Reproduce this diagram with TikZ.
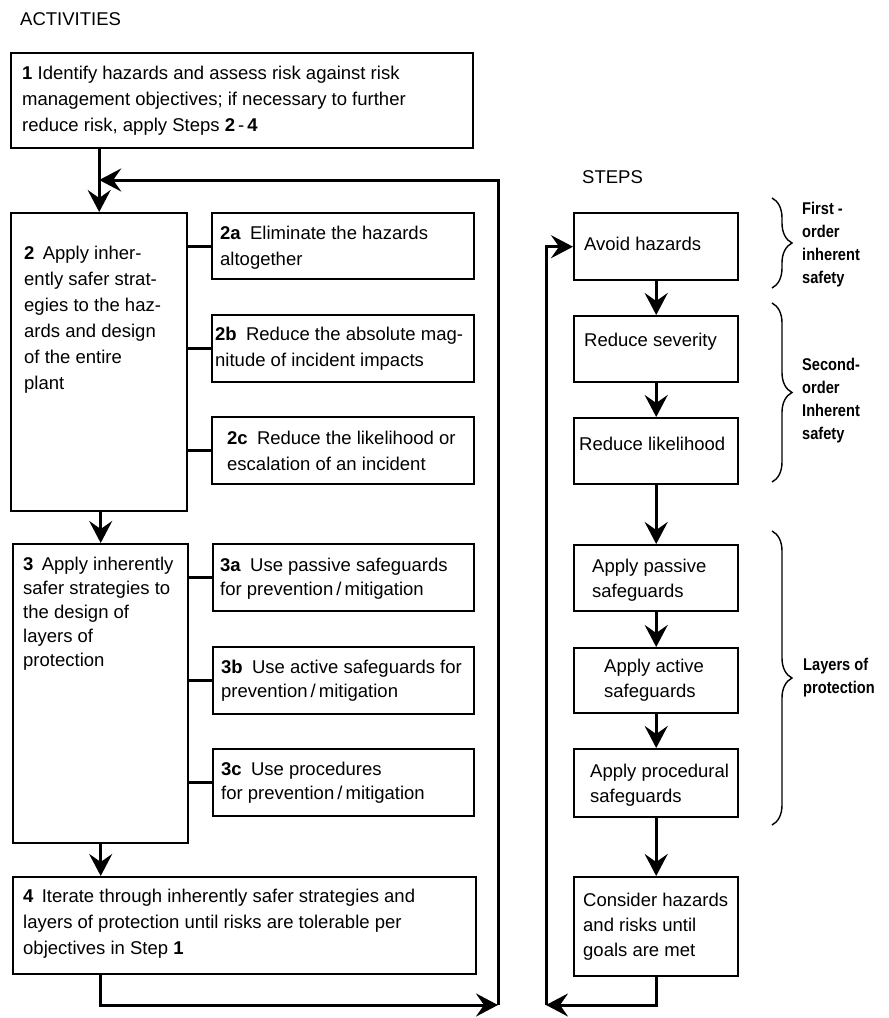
\documentclass[tikz,border=0pt]{standalone}
\usepackage{fontspec}
\setmainfont{Liberation Sans}
\newfontfamily\labelfont{Liberation Sans}[FakeStretch=0.86]
\usetikzlibrary{arrows.meta,decorations.pathreplacing,calc}
\begin{document}
\begin{tikzpicture}[x=1pt,y=-1pt,
  box/.style={draw, line width=2.4pt, anchor=north west, inner sep=0pt},
  txt/.style={anchor=west, align=left, inner sep=0pt, font=\fontsize{18.5}{26}\selectfont},
  txtt/.style={anchor=north west, align=left, inner sep=0pt, font=\fontsize{18.5}{26}\selectfont},
  stxt/.style={anchor=west, align=left, inner sep=0pt, font=\fontsize{18.5}{25}\selectfont},
  conn/.style={line width=3pt},
  arr/.style={conn, -{Stealth[length=22pt,width=23pt,inset=8pt]}},
  brc/.style={decorate, decoration={brace, amplitude=20pt, aspect=0.5}, line width=1.4pt},
  blabel/.style={anchor=west, align=left, inner sep=0pt, font=\labelfont\bfseries\fontsize{17}{23}\selectfont},
  heading/.style={anchor=west, inner sep=0pt, font=\fontsize{18.5}{22}\selectfont}]
\fill[white] (0,0) rectangle (889,1018);
\useasboundingbox (0,0) rectangle (889,1018);

% headings
\node[heading] (acth) at (20,19) {ACTIVITIES};
\node[heading] (steph) at (582,177) {STEPS};

% ---- activities column ----
\node[box, minimum width=462, minimum height=95] (b1) at (10,52) {};
\node[txt] (b1t) at ($(b1.west)+(12,0)$) {\textbf{1} Identify hazards and assess risk against risk\\management objectives; if necessary to further\\reduce risk, apply Steps \textbf{2}\,-\,\textbf{4}};

\node[box, minimum width=176, minimum height=298] (b2) at (10,212) {};
\node[txtt] (b2t) at ($(b2.north west)+(14,34)$) {\textbf{2}\hspace{0.45em}Apply inher-\\ently safer strat-\\egies to the haz-\\ards and design\\of the entire\\plant};

\node[box, minimum width=262, minimum height=66] (a2) at (211,212) {};
\node[txt] (a2t) at ($(a2.west)+(9,2)$) {\textbf{2a}\hspace{0.5em}Eliminate the hazards\\altogether};
\node[box, minimum width=262, minimum height=67] (b2b) at (211,314) {};
\node[txt] (b2bt) at ($(b2b.west)+(4,0)$) {\textbf{2b}\hspace{0.5em}Reduce the absolute mag-\\nitude of incident impacts};
\node[box, minimum width=262, minimum height=67] (c2) at (211,416) {};
\node[txt] (c2t) at ($(c2.west)+(16,0)$) {\textbf{2c}\hspace{0.5em}Reduce the likelihood or\\escalation of an incident};

\node[box, minimum width=175, minimum height=299] (b3) at (12,543) {};
\node[txtt, font=\fontsize{18.5}{24}\selectfont] (b3t) at ($(b3.north west)+(11,14)$) {\textbf{3}\hspace{0.45em}Apply inherently\\safer strategies to\\the design of\\layers of\\protection};

\node[box, minimum width=261, minimum height=67] (a3) at (212,543) {};
\node[txt, font=\fontsize{18.5}{24}\selectfont] (a3t) at ($(a3.west)+(8,1)$) {\textbf{3a}\hspace{0.5em}Use passive safeguards\\for prevention\,/\,mitigation};
\node[box, minimum width=261, minimum height=67] (b3b) at (212,646) {};
\node[txt, font=\fontsize{18.5}{24}\selectfont] (b3bt) at ($(b3b.west)+(9,0)$) {\textbf{3b}\hspace{0.5em}Use active safeguards for\\prevention\,/\,mitigation};
\node[box, minimum width=261, minimum height=67] (c3) at (212,748) {};
\node[txt, font=\fontsize{18.5}{24}\selectfont] (c3t) at ($(c3.west)+(9,0)$) {\textbf{3c}\hspace{0.5em}Use procedures\\for prevention\,/\,mitigation};

\node[box, minimum width=463, minimum height=97] (b4) at (12,876) {};
\node[txt] (b4t) at ($(b4.west)+(11,-2)$) {\textbf{4}\hspace{0.45em}Iterate through inherently safer strategies and\\layers of protection until risks are tolerable per\\objectives in Step \textbf{1}};

% ---- steps column ----
\node[box, minimum width=164, minimum height=67] (avoid) at (573,212) {};
\node[stxt] (avoidt) at ($(avoid.west)+(11,-3)$) {Avoid hazards};
\node[box, minimum width=164, minimum height=66] (sev) at (573,315) {};
\node[stxt] (sevt) at ($(sev.west)+(11,-7)$) {Reduce severity};
\node[box, minimum width=164, minimum height=66] (lik) at (573,417) {};
\node[stxt] (likt) at ($(lik.west)+(6,-7)$) {Reduce likelihood};
\node[box, minimum width=164, minimum height=66] (pas) at (573,544) {};
\node[stxt] (past) at ($(pas.west)+(19,2)$) {Apply passive\\safeguards};
\node[box, minimum width=164, minimum height=65] (act) at (573,647) {};
\node[stxt] (actt) at ($(act.west)+(31,0)$) {Apply active\\safeguards};
\node[box, minimum width=164, minimum height=68] (proc) at (573,748) {};
\node[stxt] (proct) at ($(proc.west)+(17,2)$) {Apply procedural\\safeguards};
\node[box, minimum width=164, minimum height=99] (cons) at (573,876) {};
\node[stxt] (const) at ($(cons.west)+(10,0)$) {Consider hazards\\and risks until\\goals are met};

% braces and labels
\draw[brc] (772,198) -- (772,288);
\node[blabel] (l1) at (802,245) {First -\\order\\inherent\\safety};
\draw[brc] (772,303) -- (772,482);
\node[blabel] (l2) at (802,401) {Second-\\order\\Inherent\\safety};
\draw[brc] (772,531) -- (772,825);
\node[blabel] (l3) at (803,678) {Layers of\\protection};

% ---- connectors ----
\coordinate (rb) at (498,1005);
\coordinate (rt) at (498,180);
\coordinate (lb) at (546,1005);

\draw[arr] (b1.south -| b2.north) -- (b2.north);
\draw[arr] (rb) -- (rt) -- (rt -| b2.north);
\draw[arr] (b2.south -| b3.north) -- (b3.north);
\draw[arr] (b3.south) -- (b3.south |- b4.north);
\draw[arr] (b4.south -| b3.south) |- (rb);

\draw[conn] (b2.east |- a2.west) -- (a2.west);
\draw[conn] (b2.east |- b2b.west) -- (b2b.west);
\draw[conn] (b2.east |- c2.west) -- (c2.west);
\draw[conn] (b3.east |- a3.west) -- (a3.west);
\draw[conn] (b3.east |- b3b.west) -- (b3b.west);
\draw[conn] (b3.east |- c3.west) -- (c3.west);

\draw[arr] (avoid.south) -- (sev.north);
\draw[arr] (sev.south) -- (lik.north);
\draw[arr] (lik.south) -- (pas.north);
\draw[arr] (pas.south) -- (act.north);
\draw[arr] (act.south) -- (proc.north);
\draw[arr] (proc.south) -- (cons.north);
\draw[arr] (cons.south) |- (lb);
\draw[arr] (lb) |- (avoid.west);
\end{tikzpicture}
\end{document}
